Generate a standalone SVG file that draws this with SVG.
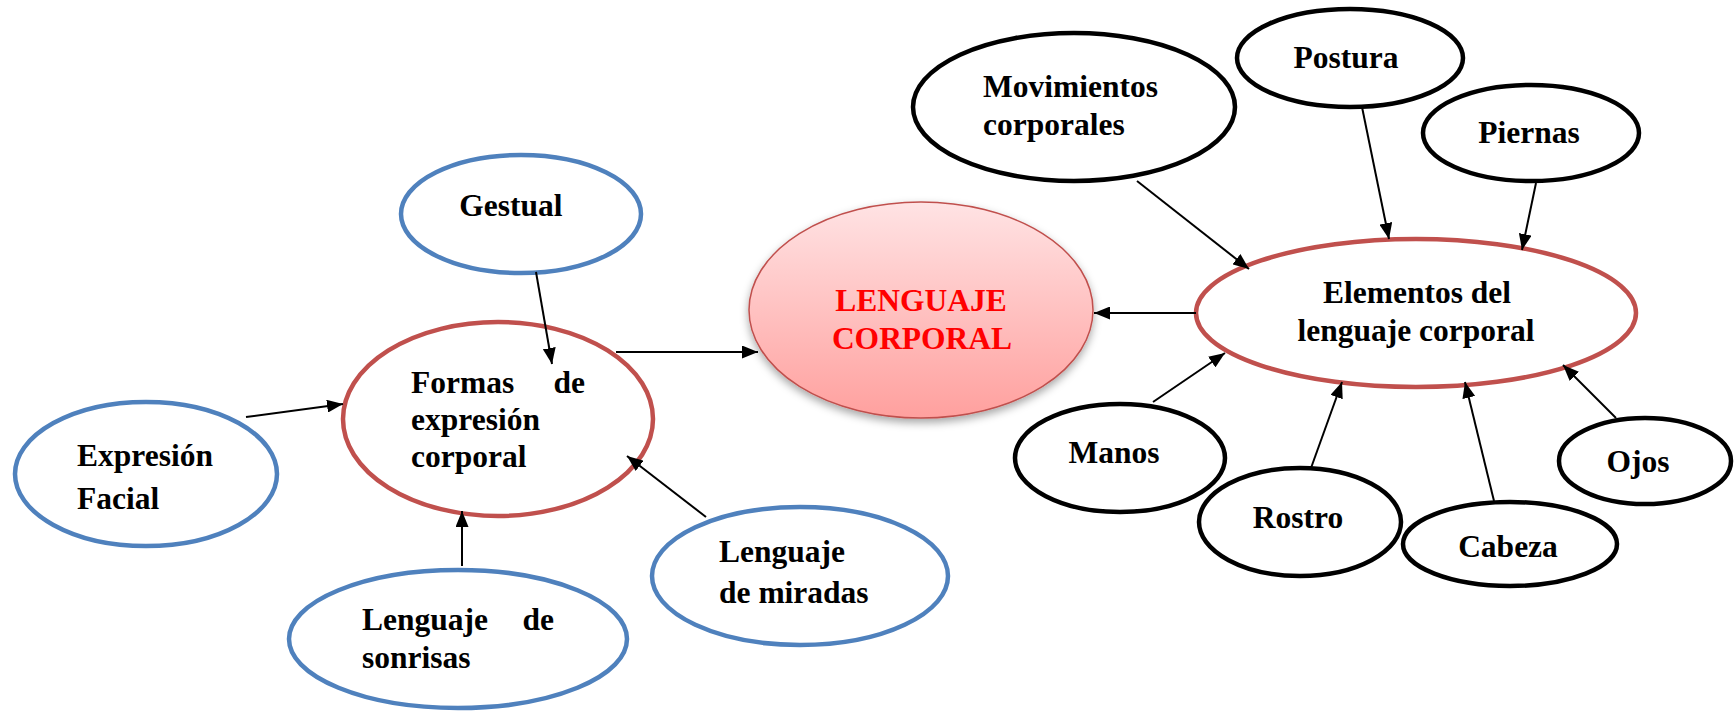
<svg xmlns="http://www.w3.org/2000/svg" width="1735" height="711" viewBox="0 0 1735 711">
<style>
.t{font-family:"Liberation Serif","Times New Roman",serif;font-weight:bold;font-size:31.5px;fill:#000}
.blue{fill:#fff;stroke:#4F81BD;stroke-width:4.5}
.red{fill:#fff;stroke:#C0504D;stroke-width:4.5}
.blk{fill:#fff;stroke:#000;stroke-width:4.5}
.c{stroke:#000;stroke-width:2;fill:none;marker-end:url(#ah)}
</style>
<defs>
<marker id="ah" markerUnits="userSpaceOnUse" markerWidth="16" markerHeight="13" refX="16" refY="6.5" orient="auto"><path d="M0,0 L16,6.5 L0,13 z" fill="#000"/></marker>
<linearGradient id="g" x1="0" y1="0" x2="0" y2="1"><stop offset="0" stop-color="#FFE3E4"/><stop offset="1" stop-color="#FFA09E"/></linearGradient>
<filter id="sh" x="-20%" y="-20%" width="140%" height="150%"><feDropShadow dx="0" dy="4" stdDeviation="4" flood-color="#000" flood-opacity="0.35"/></filter>
</defs>
<g id="gestual"><ellipse class="blue" cx="521" cy="214" rx="120" ry="59"/><text class="t" x="511" y="216" text-anchor="middle">Gestual</text></g>
<g id="formas"><ellipse class="red" cx="498" cy="419" rx="155" ry="97"/><text class="t" x="411" y="393">Formas</text><text class="t" x="585" y="393" text-anchor="end">de</text><text class="t" x="411" y="430">expresión</text><text class="t" x="411" y="467">corporal</text></g>
<g id="facial"><ellipse class="blue" cx="146" cy="474" rx="131" ry="72"/><text class="t" x="77" y="466">Expresión</text><text class="t" x="77" y="509">Facial</text></g>
<g id="sonrisas"><ellipse class="blue" cx="458" cy="639" rx="169" ry="69"/><text class="t" x="362" y="630">Lenguaje</text><text class="t" x="554" y="630" text-anchor="end">de</text><text class="t" x="362" y="668">sonrisas</text></g>
<g id="miradas"><ellipse class="blue" cx="800" cy="576" rx="148" ry="69"/><text class="t" x="719" y="562">Lenguaje</text><text class="t" x="719" y="603">de miradas</text></g>
<g id="lenguaje"><ellipse cx="921" cy="310" rx="172" ry="108" fill="url(#g)" stroke="#C0504D" stroke-width="1.5" filter="url(#sh)"/><text class="t" x="921" y="311" text-anchor="middle" style="fill:#FF0000">LENGUAJE</text><text class="t" x="922" y="349" text-anchor="middle" style="fill:#FF0000">CORPORAL</text></g>
<g id="elementos"><ellipse class="red" cx="1416" cy="313" rx="220" ry="74"/><text class="t" x="1417" y="303" text-anchor="middle">Elementos del</text><text class="t" x="1416" y="341" text-anchor="middle">lenguaje corporal</text></g>
<g id="movimientos"><ellipse class="blk" cx="1074" cy="107" rx="161" ry="74"/><text class="t" x="983" y="97">Movimientos</text><text class="t" x="983" y="135">corporales</text></g>
<g id="postura"><ellipse class="blk" cx="1350" cy="58" rx="113" ry="49"/><text class="t" x="1346" y="68" text-anchor="middle">Postura</text></g>
<g id="piernas"><ellipse class="blk" cx="1531" cy="133" rx="108" ry="48"/><text class="t" x="1529" y="143" text-anchor="middle">Piernas</text></g>
<g id="manos"><ellipse class="blk" cx="1120" cy="458" rx="105" ry="54"/><text class="t" x="1114" y="463" text-anchor="middle">Manos</text></g>
<g id="rostro"><ellipse class="blk" cx="1300" cy="522" rx="101" ry="54"/><text class="t" x="1298" y="528" text-anchor="middle">Rostro</text></g>
<g id="cabeza"><ellipse class="blk" cx="1510" cy="544" rx="107" ry="42"/><text class="t" x="1508" y="557" text-anchor="middle">Cabeza</text></g>
<g id="ojos"><ellipse class="blk" cx="1645" cy="461" rx="86" ry="43"/><text class="t" x="1638" y="472" text-anchor="middle">Ojos</text></g>
<g id="connectors">
<line class="c" x1="536" y1="272" x2="552" y2="364"/>
<line class="c" x1="246" y1="417" x2="343" y2="404"/>
<line class="c" x1="462" y1="566" x2="462" y2="511"/>
<line class="c" x1="706" y1="517" x2="627" y2="456"/>
<line class="c" x1="616" y1="352" x2="758" y2="352"/>
<line class="c" x1="1196" y1="313" x2="1094" y2="313"/>
<line class="c" x1="1137" y1="181" x2="1249" y2="269"/>
<line class="c" x1="1362" y1="107" x2="1389" y2="239"/>
<line class="c" x1="1536" y1="183" x2="1522" y2="250"/>
<line class="c" x1="1153" y1="402" x2="1225" y2="353"/>
<line class="c" x1="1311" y1="468" x2="1342" y2="382"/>
<line class="c" x1="1494" y1="501" x2="1465" y2="382"/>
<line class="c" x1="1616" y1="418" x2="1563" y2="365"/>
</g>
</svg>
